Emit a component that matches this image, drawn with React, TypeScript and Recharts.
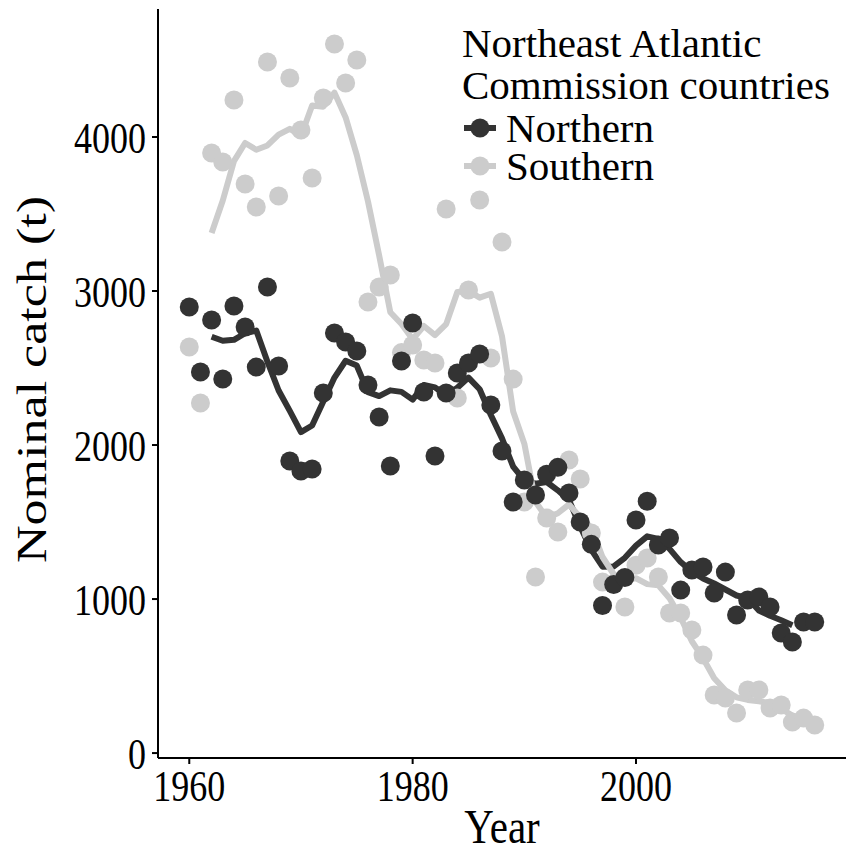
import React from 'react';
import { ComposedChart, Scatter, Line, XAxis, YAxis, Legend, Label } from 'recharts';

// Nominal catch (t) per year for the two groups of NEAC countries
const years = [
  1960, 1961, 1962, 1963, 1964, 1965, 1966, 1967, 1968, 1969,
  1970, 1971, 1972, 1973, 1974, 1975, 1976, 1977, 1978, 1979,
  1980, 1981, 1982, 1983, 1984, 1985, 1986, 1987, 1988, 1989,
  1990, 1991, 1992, 1993, 1994, 1995, 1996, 1997, 1998, 1999,
  2000, 2001, 2002, 2003, 2004, 2005, 2006, 2007, 2008, 2009,
  2010, 2011, 2012, 2013, 2014, 2015, 2016,
];

const northern = [
  2896, 2474, 2812, 2429, 2903, 2766, 2506, 3026, 2513, 1896,
  1831, 1844, 2338, 2727, 2669, 2610, 2390, 2182, 1864, 2545,
  2792, 2344, 1929, 2338, 2468, 2532, 2591, 2260, 1961, 1630,
  1773, 1675, 1810, 1855, 1688, 1500, 1355, 958, 1095, 1140,
  1513, 1635, 1351, 1396, 1058, 1188, 1208, 1039, 1175, 896,
  994, 1013, 948, 779, 721, 851, 851,
];

const southern = [
  2636, 2273, 3896, 3838, 4240, 3695, 3545, 4487, 3617, 4383,
  4045, 3734, 4253, 4604, 4351, 4500, 2929, 3026, 3104, 2600,
  2649, 2552, 2532, 3532, 2305, 3006, 3591, 2565, 3318, 2428,
  1630, 1143, 1526, 1435, 1903, 1779, 1429, 1110, 1100, 948,
  1220, 1266, 1143, 909, 909, 799, 636, 377, 357, 260,
  409, 409, 292, 312, 201, 227, 182,
];

// Five-year running means (centred), undefined at both ends
const northernTrend = [
  null, null, 2703, 2677, 2683, 2726, 2743, 2541, 2354, 2222,
  2084, 2127, 2282, 2438, 2547, 2516, 2343, 2318, 2355, 2345,
  2295, 2390, 2374, 2322, 2372, 2438, 2362, 2195, 2043, 1860,
  1770, 1749, 1760, 1706, 1642, 1471, 1319, 1210, 1212, 1268,
  1347, 1407, 1391, 1326, 1240, 1178, 1134, 1101, 1062, 1023,
  1005, 926, 891, 862, 830, null, null,
];

const southernTrend = [
  null, null, 3377, 3588, 3843, 3961, 3917, 3945, 4015, 4053,
  4006, 4204, 4197, 4288, 4127, 3882, 3582, 3232, 2862, 2786,
  2687, 2773, 2714, 2785, 2993, 3000, 2957, 2982, 2706, 2217,
  2009, 1632, 1527, 1557, 1614, 1531, 1464, 1273, 1161, 1129,
  1135, 1097, 1089, 1005, 879, 726, 616, 486, 408, 362,
  345, 336, 325, 288, 243, null, null,
];

const xTicks = [1960, 1980, 2000];
const yTicks = [0, 1000, 2000, 3000, 4000];
const legendTitle = ['Northeast Atlantic', 'Commission countries'];
const groups = [
  { name: 'Northern', color: '#333333' },
  { name: 'Southern', color: '#cccccc' },
];

const FONT = '"Liberation Serif", "Times New Roman", serif';
const DOT_R = 9.5;
const TEXT_STRETCH = 1.25; // axis text is drawn taller than wide

const rows = years.map((year, i) => ({
  year,
  northern: northern[i],
  southern: southern[i],
  northernTrend: northernTrend[i],
  southernTrend: southernTrend[i],
}));

const dot = (color: string) => (props: any) => (
  <circle cx={props.cx} cy={props.cy} r={DOT_R} fill={color} />
);

const XTick = (props: any) => (
  <text
    transform={`translate(${props.x},${props.y}) scale(1,${TEXT_STRETCH})`}
    textAnchor="middle"
    dy="0.71em"
    fontSize={36}
    fontFamily={FONT}
    fill="#000"
  >
    {props.payload.value}
  </text>
);

const YTick = (props: any) => (
  <text
    transform={`translate(${props.x},${props.y}) scale(1,${TEXT_STRETCH})`}
    textAnchor="end"
    dy="0.355em"
    fontSize={36}
    fontFamily={FONT}
    fill="#000"
  >
    {props.payload.value}
  </text>
);

const XTitle = (props: any) => {
  const vb = props.viewBox;
  return (
    <text
      transform={`translate(${vb.x + vb.width / 2},${vb.y + vb.height - 8}) scale(1,1.18)`}
      textAnchor="middle"
      fontSize={41}
      fontFamily={FONT}
      fill="#000"
    >
      Year
    </text>
  );
};

const YTitle = (props: any) => {
  const vb = props.viewBox;
  return (
    <text
      transform={`translate(${vb.x + 31},${vb.y + vb.height / 2 - 4}) scale(1,1.24) rotate(-90)`}
      textAnchor="middle"
      dy="0.355em"
      fontSize={42}
      fontFamily={FONT}
      fill="#000"
    >
      Nominal catch (t)
    </text>
  );
};

const LegendBox = () => (
  <div style={{ fontFamily: FONT, fontSize: 41, lineHeight: '42px', color: '#000', whiteSpace: 'nowrap' }}>
    {legendTitle.map((t) => (
      <div key={t}>{t}</div>
    ))}
    <div style={{ height: 3 }} />
    {groups.map((g) => (
      <div key={g.name} style={{ display: 'flex', alignItems: 'center', height: 38, lineHeight: '38px' }}>
        <svg width={44} height={38} style={{ flex: 'none' }}>
          <line x1={2} x2={34} y1={19} y2={19} stroke={g.color} strokeWidth={6} />
          <circle cx={18} cy={19} r={DOT_R} fill={g.color} />
        </svg>
        <span>{g.name}</span>
      </div>
    ))}
  </div>
);

const axisLine = { stroke: '#000', strokeWidth: 2 };

export default function App() {
  return (
    <div style={{ position: 'absolute', left: 0, top: 0, width: 846, height: 851, background: '#fff' }}>
      <ComposedChart
        width={846}
        height={851}
        data={rows}
        margin={{ top: 9, right: 0, bottom: 0, left: 0 }}
      >
        <XAxis
          dataKey="year"
          type="number"
          domain={[1957.2, 2018.8]}
          ticks={xTicks}
          allowDataOverflow
          height={93}
          axisLine={axisLine}
          tickLine={axisLine}
          tickSize={6}
          tickMargin={5}
          tick={<XTick />}
        >
          <Label content={<XTitle />} />
        </XAxis>
        <YAxis
          type="number"
          domain={[-32, 4831]}
          ticks={yTicks}
          allowDataOverflow
          width={158}
          axisLine={axisLine}
          tickLine={axisLine}
          tickSize={6}
          tickMargin={6}
          tick={<YTick />}
        >
          <Label content={<YTitle />} />
        </YAxis>
        <Legend
          layout="horizontal"
          verticalAlign="middle"
          align="center"
          wrapperStyle={{ left: 462, top: 22, width: 384 }}
          content={() => <LegendBox />}
        />
        <Scatter dataKey="southern" name="Southern" shape={dot(groups[1].color)} isAnimationActive={false} />
        <Scatter dataKey="northern" name="Northern" shape={dot(groups[0].color)} isAnimationActive={false} />
        <Line
          dataKey="northernTrend"
          stroke={groups[0].color}
          strokeWidth={6}
          strokeLinejoin="round"
          dot={false}
          activeDot={false}
          isAnimationActive={false}
        />
        <Line
          dataKey="southernTrend"
          stroke={groups[1].color}
          strokeWidth={6}
          strokeLinejoin="round"
          dot={false}
          activeDot={false}
          isAnimationActive={false}
        />
      </ComposedChart>
    </div>
  );
}
